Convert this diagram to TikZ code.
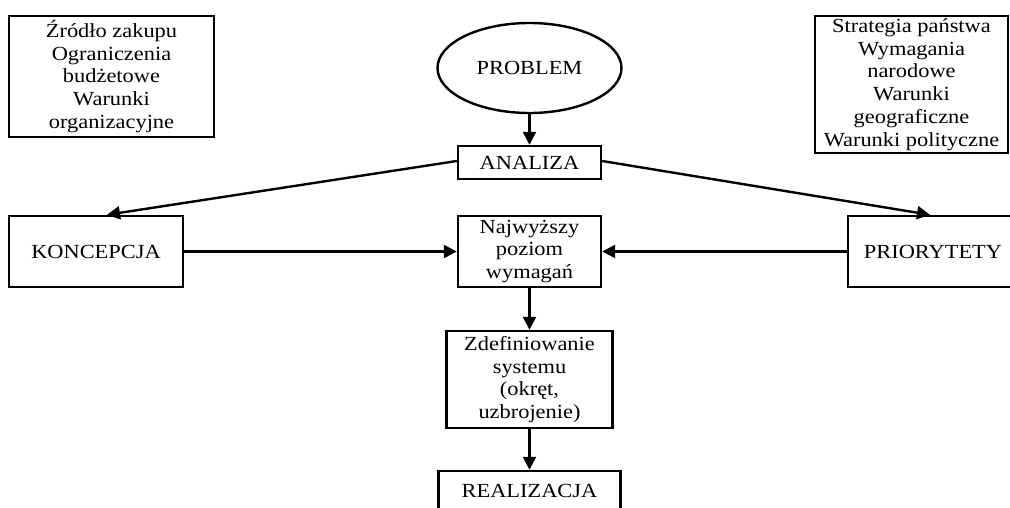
\documentclass[tikz,border=0pt]{standalone}
\usepackage{fontspec}
\setmainfont[FakeStretch=1.12]{Liberation Serif}
\usetikzlibrary{arrows.meta,shapes.geometric}
\tikzset{
  box/.style={draw, line width=2.4pt, rectangle, align=center, inner sep=0pt,
    font=\fontsize{20}{22.8}\selectfont},
  oval/.style={draw, line width=2.4pt, ellipse, inner sep=0pt,
    font=\fontsize{20}{22.8}\selectfont},
  arr/.style={line width=2.4pt, -{Triangle[length=13pt,width=13pt]}}
}
\begin{document}
\begin{tikzpicture}[x=1pt,y=-1pt]
\useasboundingbox (0,0) rectangle (1010,507);
\clip (0,0) rectangle (1010,507);
\fill[white] (0,0) rectangle (1010,507);

\node[box, minimum width=205pt, minimum height=121pt] (zrodlo) at (111.5,76.5)
  {Źródło zakupu\\Ograniczenia\\budżetowe\\Warunki\\organizacyjne};
\node[box, minimum width=193pt, minimum height=137pt] (strat) at (911.5,84.5)
  {Strategia państwa\\Wymagania\\narodowe\\Warunki\\geograficzne\\Warunki polityczne};

\node[oval, minimum width=184pt, minimum height=90pt] (problem) at (529.5,68) {PROBLEM};
\node[box, minimum width=143pt, minimum height=33pt] (analiza) at (529.5,162.5) {ANALIZA};
\node[box, minimum width=174pt, minimum height=71pt] (konc) at (96,251.5) {KONCEPCJA};
\node[box, minimum width=170pt, minimum height=71pt] (prio) at (933,251.5) {PRIORYTETY};
\node[box, minimum width=143pt, minimum height=71pt] (najw) at (529.5,251.5)
  {Najwyższy\\poziom\\wymagań};
\node[box, minimum width=166pt, minimum height=97pt] (zdef) at (529.5,379.5)
  {Zdefiniowanie\\systemu\\(okręt,\\uzbrojenie)};
\node[box, minimum width=182pt, minimum height=40pt] (real) at (529.5,491) {REALIZACJA};

\coordinate (kt) at (107,216);
\coordinate (pt) at (930,216);

\draw[arr] (problem.south) -- (analiza.north);
\draw[arr] ([yshift=1.5pt]analiza.west) -- (konc.north -| kt);
\draw[arr] ([yshift=1.5pt]analiza.east) -- (prio.north -| pt);
\draw[arr] (konc.east) -- (najw.west);
\draw[arr] (prio.west) -- (najw.east);
\draw[arr] (najw.south) -- (zdef.north);
\draw[arr] (zdef.south) -- (real.north);
\end{tikzpicture}
\end{document}
